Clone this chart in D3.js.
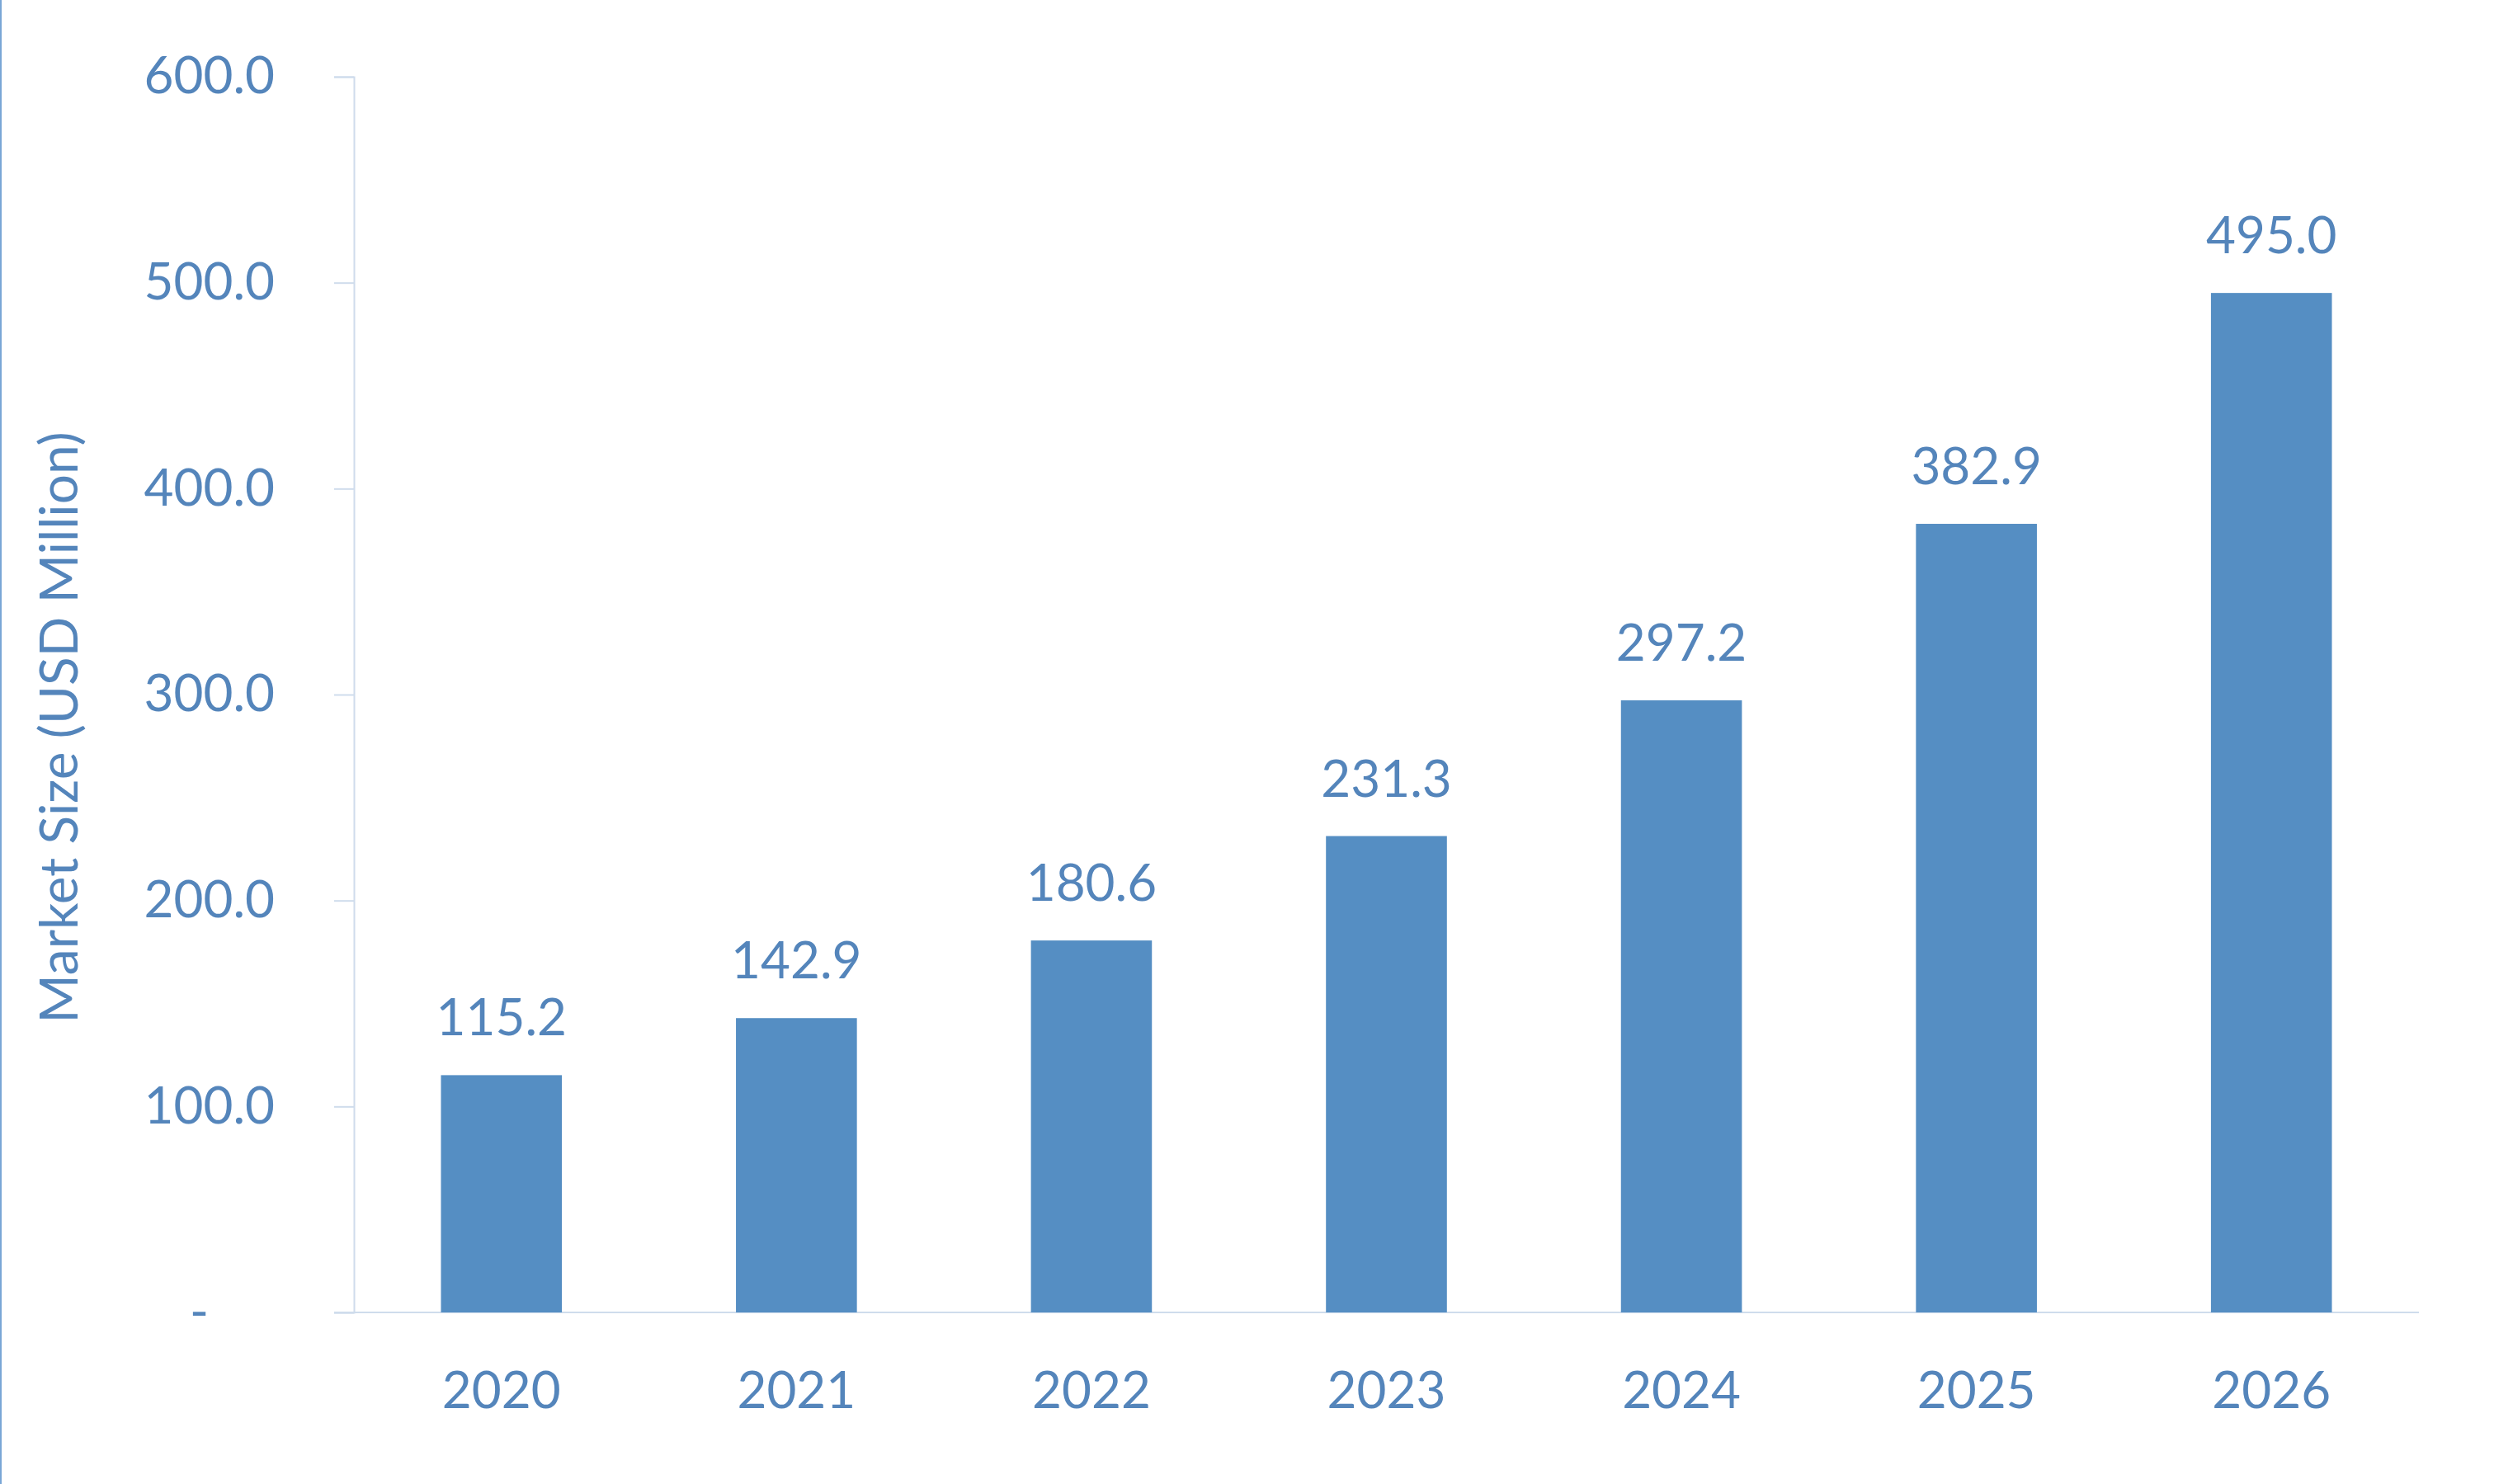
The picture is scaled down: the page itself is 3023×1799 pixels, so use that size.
<!DOCTYPE html>
<html><head><meta charset="utf-8">
<script src="https://cdn.jsdelivr.net/npm/d3@7"></script>
<style>body{margin:0;background:#fff}</style>
</head><body>
<script>
const years = ["2020","2021","2022","2023","2024","2025","2026"];
const values = [115.2,142.9,180.6,231.3,297.2,382.9,495.0];
const yTicks = [0,100,200,300,400,500,600];

const W = 3023, H = 1799;
const m = {left: 429, right: 91, top: 93, bottom: 208};
const textCol = "#5485bb", barCol = "#558ec3", axisCol = "#cfdcec";
const font = "Lato, 'Open Sans', sans-serif";

const svg = d3.select("body").append("svg").attr("width", W).attr("height", H);
svg.append("line").attr("x1",1).attr("x2",1).attr("y1",0).attr("y2",H)
  .attr("stroke","#7aa6d6").attr("stroke-width",2);

const x = d3.scaleBand().domain(years).range([m.left, W - m.right]).paddingInner(0.59).paddingOuter(0.295);
const y = d3.scaleLinear().domain([0, 600]).range([H - m.bottom, m.top]);

// y axis
const ya = svg.append("g").attr("transform", `translate(${m.left},0)`)
  .call(d3.axisLeft(y).tickValues(yTicks).tickSize(24).tickPadding(72)
    .tickFormat(d => d === 0 ? "-" : d3.format(".1f")(d)));
ya.select(".domain").attr("stroke", axisCol).attr("stroke-width", 2);
ya.selectAll(".tick line").attr("stroke", axisCol).attr("stroke-width", 2);
ya.selectAll("text").attr("fill", textCol).attr("font-size", 62).attr("font-family", font);
ya.selectAll(".tick").filter(d => d === 0).select("text").attr("dx", -80);

// x axis
const xa = svg.append("g").attr("transform", `translate(0,${H - m.bottom})`)
  .call(d3.axisBottom(x).tickSize(0).tickPadding(72));
xa.select(".domain").attr("d", `M${m.left - 24},0H${W - m.right}`).attr("stroke", axisCol).attr("stroke-width", 2);
xa.selectAll("text").attr("fill", textCol).attr("font-size", 62).attr("font-family", font);

// bars
svg.selectAll("rect.bar").data(values).join("rect")
  .attr("x", (d,i) => x(years[i])).attr("width", x.bandwidth())
  .attr("y", d => y(d)).attr("height", d => y(0) - y(d))
  .attr("fill", barCol);

// labels
svg.selectAll("text.val").data(values).join("text")
  .attr("x", (d,i) => x(years[i]) + x.bandwidth()/2)
  .attr("y", d => y(d) - 48)
  .attr("text-anchor","middle").attr("fill", textCol)
  .attr("font-size", 62).attr("font-family", font)
  .text(d => d3.format(".1f")(d));

// y title
svg.append("text").attr("transform", `translate(94,${(m.top + H - m.bottom)/2 + 40}) rotate(-90)`)
  .attr("text-anchor","middle").attr("fill", textCol)
  .attr("font-size", 64).attr("font-family", font)
  .text("Market Size (USD Million)");
</script>
</body></html>
